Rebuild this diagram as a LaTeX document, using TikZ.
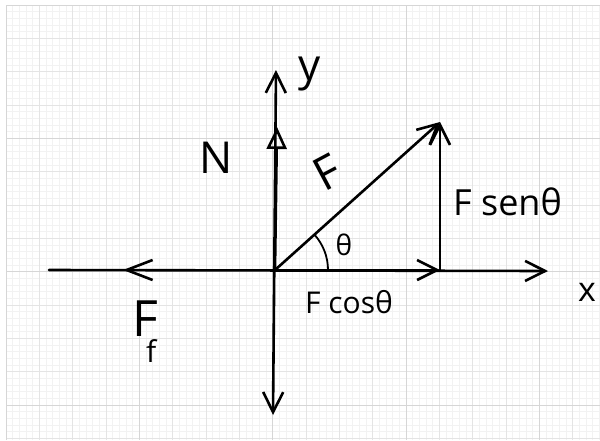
\documentclass[tikz,border=0pt]{standalone}
\usepackage{fontspec}
\setmainfont{Open Sans}
\usetikzlibrary{arrows.meta}
\definecolor{gminor}{RGB}{242,242,242}
\definecolor{gmajor}{RGB}{228,228,228}
\definecolor{gdark}{RGB}{214,214,214}
\begin{document}
\begin{tikzpicture}[x=1pt,y=-1pt,
  ink/.style={line width=2.6pt, black, line cap=round, line join=round},
  barb/.style={-{Straight Barb[length=20pt,width=20pt]}},
  lab/.style={inner sep=0pt, text=black},
  minorline/.style={gminor, line width=0.6pt},
  majorline/.style={gmajor, line width=0.8pt},
  darkline/.style={gdark, line width=1pt}]
\useasboundingbox (0,0) rectangle (600,440);
\fill[white] (0,0) rectangle (600,440);
% grid
\foreach \i in {0,...,89} \draw[minorline] ({6+\i*20/3},5) -- ({6+\i*20/3},440);
\foreach \i in {0,...,65} \draw[minorline] (6,{5+\i*20/3}) -- (600,{5+\i*20/3});
\foreach \i in {0,...,17} \draw[majorline] ({6+\i*100/3},5) -- ({6+\i*100/3},440);
\foreach \i in {0,...,13} \draw[majorline] (6,{5+\i*100/3}) -- (600,{5+\i*100/3});
\foreach \i in {0,...,4} \draw[darkline] ({6+\i*400/3},5) -- ({6+\i*400/3},440);
\foreach \i in {0,...,3} \draw[darkline] (6,{5+\i*400/3}) -- (600,{5+\i*400/3});
% points
\coordinate (O) at (275,270);
\coordinate (xL) at (49,270);
\coordinate (xR) at (548,271);
\coordinate (yT) at (276,70);
\coordinate (yB) at (273,415);
\coordinate (Ff) at (123,270);
\coordinate (Fc) at (440,270);
\coordinate (Ft) at (440,122);
\coordinate (Nt) at (277,127);
\coordinate (A0) at (328,270);
% axes
\draw[ink,barb] (xL) -- (xR);
\draw[ink,{Straight Barb[length=20pt,width=20pt]}-{Straight Barb[length=20pt,width=20pt]}] (yB) -- (yT);
% forces
\draw[ink,-{Straight Barb[length=26pt,width=20pt]}] (O) -- (Ff);
\draw[ink,barb] (O) -- (Fc);
\draw[ink,barb] (Fc) -- (Ft);
\draw[ink,barb] (O) -- (Ft);
\draw[ink,-{Triangle[open,length=22pt,width=20pt]}] (O) -- (Nt);
% angle
\draw[line width=1.8pt] (A0) arc[start angle=0,end angle=-42,radius=53];
% labels
\node[lab,anchor=base,font=\fontsize{44}{48}\selectfont] (lN) at (216,173) {N};
\node[lab,anchor=base,font=\fontsize{44}{48}\selectfont] (ly) at (310,80) {y};
\node[lab,rotate=28,font=\fontsize{46}{50}\selectfont] (lF) at (327,172) {F};
\node[lab,anchor=base west,font=\fontsize{36}{40}\selectfont] (lFs) at (453,215) {F senθ};
\node[lab,anchor=base west,font=\fontsize{30}{34}\selectfont] (lFc) at (305,313) {F cosθ};
\node[lab,anchor=base,font=\fontsize{34}{38}\selectfont] (lx) at (587,301) {x};
\node[lab,anchor=base,font=\fontsize{28}{32}\selectfont] (lth) at (344,255) {θ};
\node[lab,anchor=base west,font=\fontsize{50}{54}\selectfont] (lFf) at (132,336) {F\kern-12pt\raisebox{-26pt}{\fontsize{30}{34}\selectfont f}};
\end{tikzpicture}
\end{document}
